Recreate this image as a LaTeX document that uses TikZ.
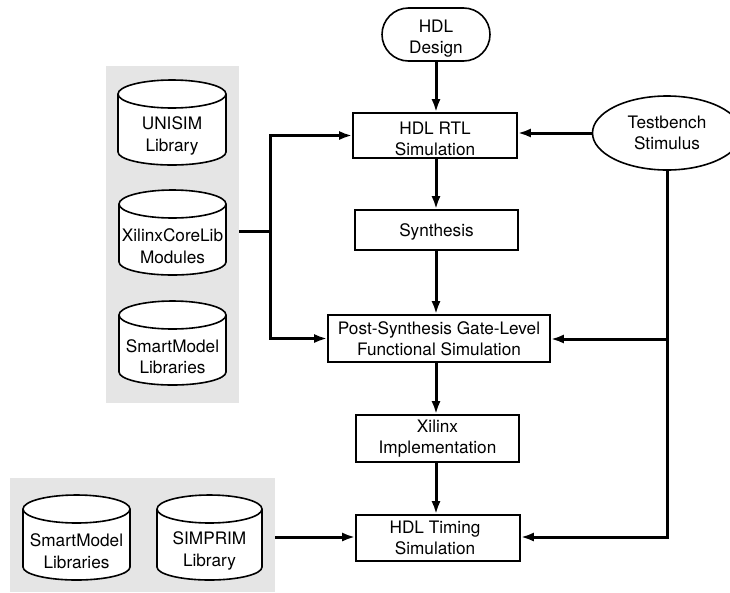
\documentclass[tikz,border=0pt]{standalone}
\usepackage{fontspec}
\setmainfont{TeX Gyre Heros}
\usetikzlibrary{arrows.meta,shapes.geometric,shapes.misc}
\definecolor{panelgray}{HTML}{E5E5E5}
\tikzset{
  x=1pt,y=-1pt,
  flowbox/.style={draw,line width=1.6pt,inner sep=0pt,align=center,font=\fontsize{17.2}{21.5}\selectfont,anchor=center,execute at begin node={\rule{0pt}{17pt}}},
  panel/.style={fill=panelgray,draw=none,inner sep=0pt},
  cyltext/.style={inner sep=0pt,align=center,font=\fontsize{17.2}{21.5}\selectfont},
  link/.style={line width=3pt,-{Latex[length=13pt,width=9pt]}},
  plain/.style={line width=3pt},
  cylline/.style={line width=1.6pt,fill=white,line join=round},
}
% name, left, right, top, bottom, text
\newcommand{\cylshape}[6]{%
  \pgfmathsetmacro{\cxm}{(#2+#3)/2}%
  \pgfmathsetmacro{\cqa}{#2+0.2239*(#3-#2)}%
  \pgfmathsetmacro{\cqb}{#3-0.2239*(#3-#2)}%
  \pgfmathsetmacro{\cmid}{#4+14}%
  \pgfmathsetmacro{\cmidb}{#4+28}%
  \pgfmathsetmacro{\cup}{#4+6.3}%
  \pgfmathsetmacro{\cdn}{#4+21.7}%
  \pgfmathsetmacro{\clow}{#5-13}%
  \pgfmathsetmacro{\clowb}{#5-5.8}%
  \draw[cylline] (#2,\cmid) -- (#2,\clow)
     .. controls (#2,\clowb) and (\cqa,#5) .. (\cxm,#5)
     .. controls (\cqb,#5) and (#3,\clowb) .. (#3,\clow)
     -- (#3,\cmid)
     .. controls (#3,\cup) and (\cqb,#4) .. (\cxm,#4)
     .. controls (\cqa,#4) and (#2,\cup) .. (#2,\cmid) -- cycle;
  \draw[line width=1.6pt] (#2,\cmid)
     .. controls (#2,\cdn) and (\cqa,\cmidb) .. (\cxm,\cmidb)
     .. controls (\cqb,\cmidb) and (#3,\cdn) .. (#3,\cmid);
  \node[cyltext] (#1) at (\cxm,{(#4+#5)/2+13.5}) {#6};
}
\begin{document}
\begin{tikzpicture}
\useasboundingbox (0,0) rectangle (730,592);
\node[panel,minimum width=133pt,minimum height=337pt] (upanel) at (172.5,234.5) {};
\node[panel,minimum width=265pt,minimum height=114pt] (lpanel) at (142.5,535) {};
\cylshape{unisim}{118}{226}{80}{165}{UNISIM\\Library}
\cylshape{core}{119}{226}{190}{275}{XilinxCoreLib\\Modules}
\cylshape{smart}{119}{226}{301}{385}{SmartModel\\Libraries}
\cylshape{smartb}{23}{130}{495}{580}{SmartModel\\Libraries}
\cylshape{simprim}{157}{262}{495}{580}{SIMPRIM\\Library}

\node[flowbox,rounded rectangle,minimum width=108pt,minimum height=53pt] (design) at (436,34.5) {\rule{0pt}{21pt}HDL\\Design};
\node[flowbox,minimum width=164pt,minimum height=45pt] (rtl) at (435,135.5) {\rule{0pt}{19pt}HDL RTL\\Simulation};
\node[flowbox,minimum width=163pt,minimum height=40pt] (syn) at (436.5,230) {Synthesis};
\node[flowbox,minimum width=222pt,minimum height=47pt] (post) at (439,338.5) {Post-Synthesis Gate-Level\\Functional Simulation};
\node[flowbox,minimum width=163pt,minimum height=47pt] (impl) at (437.5,438.5) {Xilinx\\Implementation};
\node[flowbox,minimum width=164pt,minimum height=46pt] (timing) at (438,538) {HDL Timing\hspace*{6pt}\\Simulation\hspace*{6pt}};
\node[flowbox,ellipse,minimum width=149pt,minimum height=74pt] (tb) at (667,133) {Testbench\\Stimulus};

\coordinate (spine) at (436,0);
\coordinate (bus) at (270,231);
\coordinate (tbdrop) at (667,339);
\coordinate (tbend) at (667,537);

\draw[link] (design.south) -- (rtl.north -| design.south);
\draw[link] (rtl.south -| spine) -- (syn.north -| spine);
\draw[link] (syn.south -| spine) -- (post.north -| spine);
\draw[link] (post.south -| spine) -- (impl.north -| spine);
\draw[link] (impl.south -| spine) -- (timing.north -| spine);
\draw[link] (tb.west) -- (rtl.east |- tb.west);
\draw[plain] (upanel.east |- bus) -- (bus);
\draw[link] (bus) |- (rtl.west);
\draw[link] (bus) |- (post.west);
\draw[link] (tb.south) |- (timing.east |- tbend);
\draw[link] (tbdrop) -- (post.east |- tbdrop);
\draw[link] (lpanel.east |- tbend) -- (timing.west |- tbend);
\end{tikzpicture}
\end{document}
